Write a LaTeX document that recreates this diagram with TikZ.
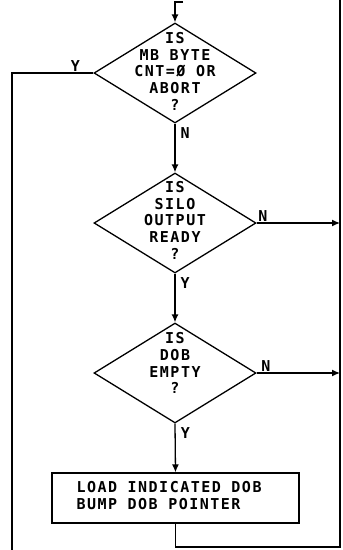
\documentclass[tikz,border=0pt]{standalone}
\usepackage{fontspec}
\usetikzlibrary{arrows.meta,shapes.geometric}
\newfontfamily\lettr{DejaVu Sans Mono}[LetterSpace=10]
\newcommand{\lettrfont}{\lettr\bfseries\fontsize{15pt}{16.7pt}\selectfont}
\newcommand{\dtxt}[2][-3pt]{\raisebox{#1}[0pt][0pt]{\begin{tabular}[c]{@{}c@{}}#2\end{tabular}}}
\newcommand{\btxt}[1]{\makebox[198pt][l]{\begin{tabular}[c]{@{}l@{}}#1\end{tabular}}}

\begin{document}
\begin{tikzpicture}[
  x=1pt,y=-1pt,
  dia/.style={diamond,draw,line width=1.3pt,minimum width=162pt,minimum height=100pt,
              inner sep=0pt,font=\lettrfont},
  blk/.style={rectangle,draw,line width=1.3pt,minimum width=247pt,minimum height=50pt,
              font=\lettrfont},
  ln/.style={line width=1.3pt},
  arr/.style={ln,-{Latex[length=8pt,width=7pt]}},
  lbl/.style={font=\lettrfont,inner sep=1pt}
]
\useasboundingbox (0,0) rectangle (343,550);
\node[dia] (d1) at (175,73) {\dtxt[-4pt]{IS\\MB BYTE\\CNT=Ø OR\\ABORT\\?}};
\node[dia] (d2) at (175,223) {\dtxt{IS\\SILO\\OUTPUT\\READY\\?}};
\node[dia] (d3) at (175,373) {\dtxt[4pt]{IS\\DOB\\EMPTY\\?}};
\node[blk] (ld) at (175.5,498) {\btxt{LOAD INDICATED DOB\\BUMP DOB POINTER}};
\coordinate (in) at (183,2);
\coordinate (yb) at (12,550);
\coordinate (rt) at (340,0);
\coordinate (rb) at (340,547);
% entry and loop back
\draw[arr] (in) -- (in -| d1.north) -- (d1.north);
\draw[ln] (d1.west) -- node[lbl,above,pos=0.22]{Y} (d1.west -| yb) -- (yb);
\draw[arr] (d1.south) -- node[lbl,right,pos=0.2,xshift=4pt]{N} (d2.north);
\draw[arr] (d2.east) -- node[lbl,above right,pos=0]{N} (d2.east -| rt);
\draw[arr] (d2.south) -- node[lbl,right,pos=0.2,xshift=4pt]{Y} (d3.north);
\draw[arr] (d3.east) -- node[lbl,above right,pos=0,xshift=3pt]{N} (d3.east -| rt);
\draw[arr] (d3.south) -- node[lbl,right,pos=0.2,xshift=4pt]{Y} (ld.north);
\draw[ln] (ld.south) -- (ld.south |- rb) -- (rb) -- (rt);
\end{tikzpicture}
\end{document}
